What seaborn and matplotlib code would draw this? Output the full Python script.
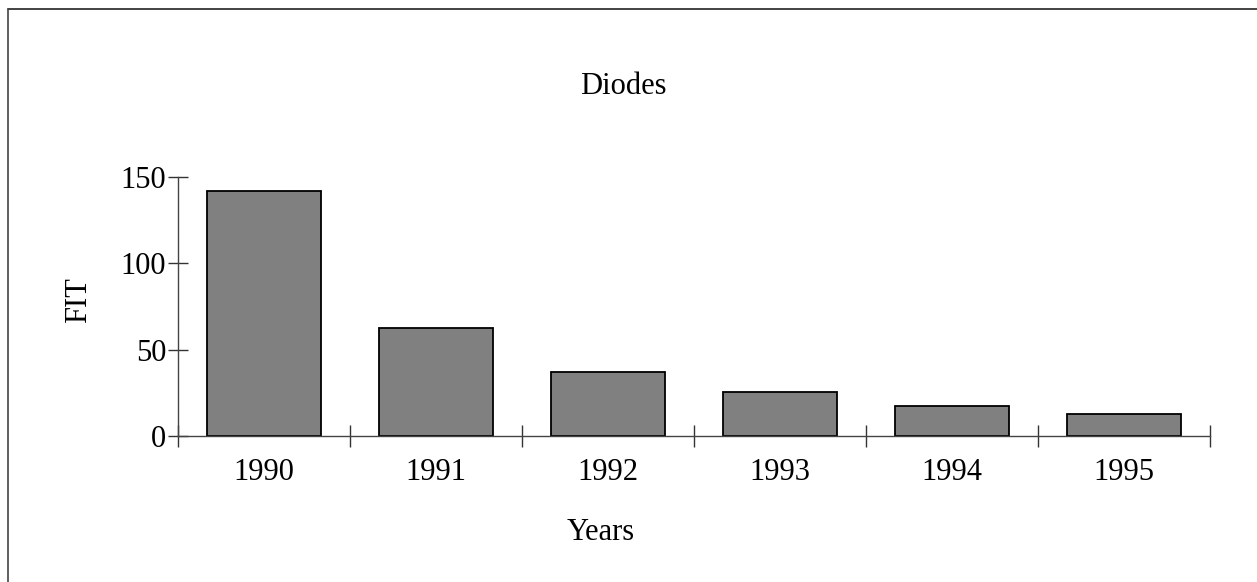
import matplotlib
matplotlib.use("Agg")
import matplotlib.pyplot as plt
import seaborn as sns
import pandas as pd
from matplotlib.lines import Line2D

# FIT rate per year for diodes
years = ["1990", "1991", "1992", "1993", "1994", "1995"]
fit_values = [142, 62.5, 37, 25.5, 17.5, 12.5]
y_ticks = [0, 50, 100, 150]

df = pd.DataFrame({"Years": years, "FIT": fit_values})

sns.set_theme(style="white")
plt.rcParams["font.family"] = ["Liberation Serif", "DejaVu Serif"]

W, H = 1257, 582
fig = plt.figure(figsize=(W / 100, H / 100), dpi=100)
ax = fig.add_axes([178 / W, 1 - 436 / H, (1210 - 178) / W, (436 - 177) / H])

sns.barplot(data=df, x="Years", y="FIT", ax=ax, color="#808080",
            saturation=1, width=0.668, edgecolor="black", linewidth=1.3)

ax.set_xlim(-0.5, len(years) - 0.5)
ax.set_ylim(0, 150)
ax.set_yticks(y_ticks)
ax.set_yticklabels([str(v) for v in y_ticks])

# category boundary ticks on the x axis, labels centred without ticks
ax.set_xticks(range(len(years)))
ax.set_xticklabels(years)
ax.set_xticks([i - 0.5 for i in range(len(years) + 1)], minor=True)
ax.tick_params(axis="x", which="major", length=0, pad=16, labelsize=22, colors="black")
ax.tick_params(axis="x", which="minor", direction="inout", length=16, width=1, color="#333333", bottom=True)
ax.tick_params(axis="y", which="major", direction="inout", length=15, width=1, color="#333333",
               pad=1, labelsize=22, left=True, labelcolor="black")

for side in ["top", "right"]:
    ax.spines[side].set_visible(False)
for side in ["left", "bottom"]:
    ax.spines[side].set_color("#444444")
    ax.spines[side].set_linewidth(1)

ax.set_xlabel("Years", fontsize=22, color="black")
ax.xaxis.set_label_coords((601 - 178) / (1210 - 178), 1 - (533 - 177) / (436 - 177))
ax.xaxis.label.set_va("center")
ax.set_ylabel("FIT", fontsize=22, color="black")
ax.yaxis.set_label_coords((79 - 178) / (1210 - 178), 1 - (300 - 177) / (436 - 177))
ax.yaxis.label.set_va("center")

fig.text(623 / W, 1 - 86 / H, "Diodes", ha="center", va="center", fontsize=22, color="black")

# outer frame (top and left edges)
fig.add_artist(Line2D([8 / W, 1.0], [1 - 9 / H, 1 - 9 / H], transform=fig.transFigure,
                      color="#222222", linewidth=1.2))
fig.add_artist(Line2D([8 / W, 8 / W], [0, 1 - 9 / H], transform=fig.transFigure,
                      color="#444444", linewidth=1.2))

fig.savefig("out.png", dpi=100)
